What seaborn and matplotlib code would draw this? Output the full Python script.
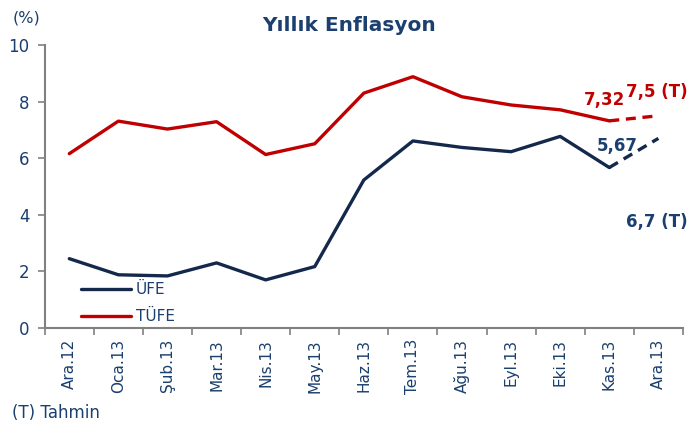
import numpy as np
import pandas as pd
import matplotlib
matplotlib.use('Agg')
import matplotlib.pyplot as plt
import seaborn as sns
from matplotlib.lines import Line2D

months = ['Ara.12', 'Oca.13', 'Şub.13', 'Mar.13', 'Nis.13', 'May.13', 'Haz.13',
          'Tem.13', 'Ağu.13', 'Eyl.13', 'Eki.13', 'Kas.13', 'Ara.13']
ufe = [2.45, 1.88, 1.84, 2.30, 1.70, 2.17, 5.23, 6.61, 6.38, 6.23, 6.77, 5.67]
tufe = [6.16, 7.31, 7.03, 7.29, 6.13, 6.51, 8.30, 8.88, 8.17, 7.88, 7.71, 7.32]
ufe_t = 6.7
tufe_t = 7.5

NAVY = '#14284b'
RED = '#c00000'
TXT = '#1b3f6e'
GREY = '#808080'

sns.set_style('white')
plt.rcParams['font.family'] = ['DejaVu Sans']

x = np.arange(len(months))
act = pd.DataFrame({'x': np.concatenate([x[:-1], x[:-1]]),
                    'val': ufe + tufe,
                    'seri': ['ÜFE'] * len(ufe) + ['TÜFE'] * len(tufe)})
fc = pd.DataFrame({'x': [x[-2], x[-1], x[-2], x[-1]],
                   'val': [ufe[-1], ufe_t, tufe[-1], tufe_t],
                   'seri': ['ÜFE', 'ÜFE', 'TÜFE', 'TÜFE']})
pal = {'ÜFE': NAVY, 'TÜFE': RED}

fig = plt.figure(figsize=(6.99, 4.23), dpi=100)
ax = fig.add_axes([0.064, 0.2246, 0.913, 0.669])

sns.lineplot(data=act, x='x', y='val', hue='seri', palette=pal, linewidth=2.4,
             ax=ax, legend=False)
sns.lineplot(data=fc, x='x', y='val', hue='seri', palette=pal, linewidth=2.4,
             ax=ax, legend=False, linestyle=(0, (3, 2)))

ax.set_xlim(-0.5, len(months) - 0.5)
ax.set_ylim(0, 10)
ax.set_yticks([0, 2, 4, 6, 8, 10])
ax.set_xticks(x)
ax.set_xticklabels(months, rotation=90, color=TXT, fontsize=11)
ax.set_xticks(np.arange(-0.5, len(months)), minor=True)
ax.tick_params(axis='x', which='major', length=0, pad=8)
ax.tick_params(axis='x', which='minor', length=5, color=GREY, width=1.2, direction='out', bottom=True)
ax.tick_params(axis='y', length=5, color=GREY, width=1.2, direction='out', left=True,
               labelcolor=TXT, labelsize=12, pad=6)
ax.set_xlabel('')
ax.set_ylabel('')
for s in ['top', 'right']:
    ax.spines[s].set_visible(False)
for s in ['left', 'bottom']:
    ax.spines[s].set_color(GREY)
    ax.spines[s].set_linewidth(1.5)

# legend
handles = [Line2D([], [], color=NAVY, lw=2.4), Line2D([], [], color=RED, lw=2.4)]
leg = ax.legend(handles, ['ÜFE', 'TÜFE'], loc='lower left', bbox_to_anchor=(0.035, -0.035),
                frameon=False, handlelength=3.3, handletextpad=0.3, labelspacing=0.8,
                fontsize=11)
for t in leg.get_texts():
    t.set_color(TXT)

# annotations
ann = dict(textcoords='offset pixels', fontsize=12, fontweight='bold', va='center')
ax.annotate('7,32', (x[-2], tufe[-1]), xytext=(16, 21), ha='right', color=RED, **ann)
ax.annotate('7,5 (T)', (x[-1], tufe_t), xytext=(-32, 24), ha='left', color=RED, **ann)
ax.annotate('5,67', (x[-2], ufe[-1]), xytext=(8, 22), ha='center', color=TXT, **ann)
ax.annotate('6,7 (T)', (x[-1], ufe_t), xytext=(-32, -84), ha='left', color=TXT, **ann)

fig.text(0.5, 0.94, 'Yıllık Enflasyon', ha='center', va='center', color=TXT,
         fontsize=14.5, fontweight='bold')
fig.text(0.018, 0.957, '(%)', ha='left', va='center', color=TXT, fontsize=11.5)
fig.text(0.017, 0.024, '(T) Tahmin', ha='left', va='center', color=TXT, fontsize=12)

fig.savefig('out.png', dpi=100)
